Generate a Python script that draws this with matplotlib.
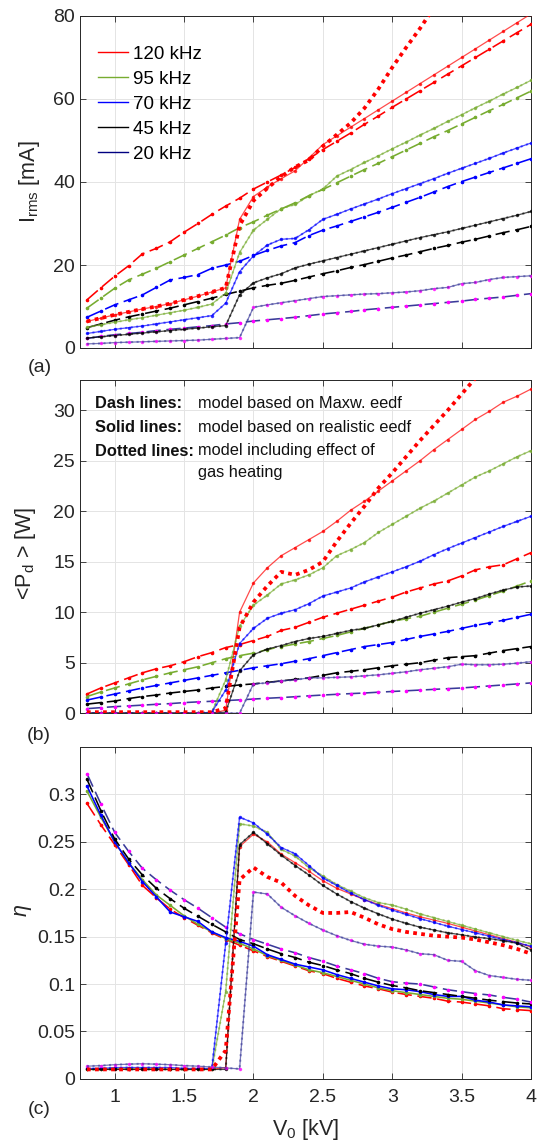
import matplotlib
matplotlib.use('Agg')
import matplotlib.pyplot as plt
from matplotlib.lines import Line2D
from matplotlib.ticker import FuncFormatter

plt.rcParams['font.family'] = ['Liberation Sans', 'DejaVu Sans']
plt.rcParams['mathtext.fontset'] = 'custom'
plt.rcParams['mathtext.rm'] = 'Liberation Sans'
plt.rcParams['mathtext.it'] = 'Liberation Sans:italic'
plt.rcParams['mathtext.bf'] = 'Liberation Sans:bold'

# ---------------- data ----------------
V0 = [0.8, 0.9, 1.0, 1.1, 1.2, 1.3, 1.4, 1.5, 1.6, 1.7, 1.8, 1.9, 2.0, 2.1, 2.2, 2.3, 2.4,
      2.5, 2.6, 2.7, 2.8, 2.9, 3.0, 3.1, 3.2, 3.3, 3.4, 3.5, 3.6, 3.7, 3.8, 3.9, 4.0]
freqs = ['120 kHz', '95 kHz', '70 kHz', '45 kHz', '20 kHz']

# (a) Irms [mA]
irms_dash_120 = [11.6, 14.5, 17.3, 19.8, 22.7, 24.0, 25.6, 27.9, 30.0, 32.2, 34.2, 36.1, 38.3, 40.0, 41.7, 43.5, 45.6,
                 47.8, 49.8, 51.8, 53.9, 55.9, 58.0, 60.0, 62.0, 64.0, 66.0, 68.0, 70.0, 72.0, 74.0, 76.0, 78.0]
irms_solid_120 = [6.4, 7.2, 8.0, 8.7, 9.4, 10.0, 10.7, 11.6, 12.5, 13.5, 14.5, 31.0, 36.5, 38.8, 40.8, 42.7, 45.8,
                  49.0, 51.1, 53.2, 55.3, 57.4, 59.5, 61.6, 63.7, 65.8, 67.9, 70.0, 72.1, 74.2, 76.3, 78.4, 80.5]
irms_dot_120 = [6.4, 7.2, 8.0, 8.7, 9.4, 10.0, 10.7, 11.6, 12.5, 13.5, 14.5, 29.5, 35.5, 38.5, 41.3, 43.6, 45.3,
                48.6, 51.4, 54.2, 57.8, 62.4, 67.6, 72.4, 77.0, 82.0]
irms_dash_95 = [9.6, 12.0, 14.4, 16.4, 17.8, 19.2, 20.8, 22.4, 24.0, 25.6, 27.2, 29.0, 30.4, 32.0, 33.5, 35.0, 36.7,
                38.2, 39.8, 41.4, 43.0, 44.5, 46.1, 47.7, 49.3, 50.9, 52.4, 54.0, 55.6, 57.2, 58.7, 60.3, 61.9]
irms_solid_95 = [5.0, 5.6, 6.2, 6.8, 7.3, 7.9, 8.5, 9.1, 9.8, 10.6, 13.2, 23.0, 28.4, 31.0, 33.6, 34.6, 36.7,
                 38.3, 41.4, 43.0, 44.7, 46.3, 48.0, 49.6, 51.3, 52.9, 54.6, 56.2, 57.9, 59.5, 61.2, 62.8, 64.5]
irms_dash_70 = [7.4, 8.9, 10.4, 11.6, 12.8, 14.6, 16.4, 17.0, 17.7, 19.2, 20.0, 20.9, 22.3, 23.5, 24.6, 25.4, 27.1,
                28.4, 29.4, 30.5, 31.6, 32.7, 33.9, 35.1, 36.3, 37.6, 38.9, 40.1, 41.2, 42.3, 43.4, 44.5, 45.6]
irms_solid_70 = [3.5, 4.0, 4.5, 4.9, 5.3, 5.8, 6.3, 6.8, 7.3, 7.8, 10.8, 18.4, 22.2, 24.8, 26.2, 26.4, 28.5,
                 31.0, 32.2, 33.5, 34.7, 35.9, 37.2, 38.4, 39.6, 40.8, 42.1, 43.3, 44.5, 45.7, 47.0, 48.2, 49.4]
irms_dash_45 = [4.9, 5.8, 6.7, 7.5, 8.2, 8.9, 9.6, 10.4, 11.2, 12.0, 12.9, 13.7, 14.5, 15.1, 15.6, 16.3, 17.1,
                17.9, 18.6, 19.4, 20.1, 20.9, 21.7, 22.4, 23.2, 24.0, 24.7, 25.5, 26.2, 27.0, 27.8, 28.5, 29.3]
irms_solid_45 = [2.4, 2.7, 3.0, 3.3, 3.6, 3.9, 4.2, 4.5, 4.8, 5.1, 5.4, 12.8, 15.7, 16.9, 17.9, 19.3, 20.2,
                 21.0, 21.8, 22.6, 23.4, 24.2, 25.0, 25.8, 26.6, 27.3, 28.0, 28.8, 29.6, 30.4, 31.2, 32.0, 32.9]
irms_dash_20 = [2.3, 2.8, 3.2, 3.5, 3.8, 4.2, 4.5, 4.8, 5.1, 5.4, 5.8, 6.1, 6.5, 6.8, 7.1, 7.4, 7.8,
                8.2, 8.5, 8.8, 9.2, 9.5, 9.8, 10.1, 10.4, 10.7, 11.0, 11.3, 11.7, 12.0, 12.3, 12.7, 13.1]
irms_solid_20 = [1.0, 1.1, 1.3, 1.4, 1.5, 1.6, 1.7, 1.8, 1.9, 2.1, 2.3, 2.5, 9.8, 10.4, 10.9, 11.4, 11.9,
                 12.4, 12.6, 12.8, 13.0, 13.1, 13.3, 13.5, 13.8, 14.3, 14.6, 15.5, 15.8, 16.5, 17.0, 17.2, 17.4]

# (b) <Pd> [W]
pd_dash_120 = [1.9, 2.5, 3.0, 3.5, 4.0, 4.4, 4.7, 5.1, 5.6, 6.0, 6.5, 6.8, 7.2, 7.6, 8.2, 8.5, 9.0,
               9.5, 9.9, 10.3, 10.7, 11.1, 11.5, 12.0, 12.4, 12.8, 13.1, 13.6, 14.2, 14.5, 14.7, 15.3, 15.9]
pd_solid_120 = [0, 0, 0, 0, 0, 0, 0, 0, 0, 0, 0.3, 10.0, 12.9, 14.4, 15.6, 16.4, 17.2,
                18.0, 19.0, 20.1, 21.0, 22.0, 23.0, 24.0, 25.0, 26.1, 27.1, 28.1, 29.1, 29.9, 30.8, 31.4, 32.1]
pd_dot_120 = [0.1, 0.1, 0.1, 0.1, 0.1, 0.1, 0.1, 0.1, 0.1, 0.1, 0.5, 8.5, 11.0, 12.6, 14.0, 13.7, 14.2,
              15.0, 17.0, 18.8, 20.5, 22.3, 23.8, 25.4, 27.0, 28.5, 30.0, 31.6, 33.2, 34.8]
pd_dash_95 = [1.65, 2.1, 2.5, 2.9, 3.3, 3.65, 4.0, 4.3, 4.6, 5.0, 5.4, 5.7, 5.95, 6.3, 6.6, 6.85, 7.1,
              7.4, 7.7, 8.05, 8.4, 8.75, 9.1, 9.35, 9.6, 10.0, 10.4, 10.8, 11.2, 11.65, 12.1, 12.6, 13.1]
pd_solid_95 = [0, 0, 0, 0, 0, 0, 0, 0, 0, 0.1, 3.3, 8.6, 10.7, 11.7, 12.8, 13.2, 13.7,
               14.4, 15.6, 16.2, 16.9, 17.9, 18.7, 19.5, 20.3, 21.0, 21.8, 22.6, 23.4, 24.0, 24.7, 25.4, 26.0]
pd_dash_70 = [1.3, 1.6, 1.9, 2.2, 2.5, 2.75, 3.0, 3.25, 3.5, 3.75, 4.0, 4.25, 4.5, 4.7, 4.9, 5.15, 5.4,
              5.7, 6.0, 6.3, 6.6, 6.8, 7.0, 7.3, 7.6, 7.85, 8.1, 8.4, 8.7, 8.95, 9.2, 9.5, 9.8]
pd_solid_70 = [0, 0, 0, 0, 0, 0, 0, 0, 0, 0.1, 2.3, 6.9, 8.4, 9.4, 9.9, 10.25, 10.85,
               11.6, 12.0, 12.4, 13.0, 13.5, 14.0, 14.5, 15.05, 15.7, 16.3, 16.85, 17.4, 17.95, 18.5, 19.0, 19.5]
pd_dash_45 = [0.9, 1.05, 1.2, 1.45, 1.65, 1.8, 2.0, 2.15, 2.3, 2.5, 2.65, 2.8, 2.9, 3.05, 3.2, 3.35, 3.5,
              3.75, 4.0, 4.15, 4.3, 4.5, 4.7, 4.85, 5.0, 5.25, 5.5, 5.6, 5.7, 5.95, 6.2, 6.4, 6.6]
pd_solid_45 = [0, 0, 0, 0, 0, 0, 0, 0, 0, 0, 0.1, 4.2, 5.8, 6.35, 6.7, 7.1, 7.4,
               7.6, 7.9, 8.2, 8.4, 8.75, 9.1, 9.5, 9.9, 10.25, 10.6, 11.0, 11.35, 11.8, 12.2, 12.5, 12.6]
pd_dash_20 = [0.45, 0.55, 0.65, 0.72, 0.8, 0.88, 0.95, 1.05, 1.12, 1.18, 1.25, 1.32, 1.4, 1.48, 1.55, 1.63, 1.72,
              1.8, 1.87, 1.94, 2.0, 2.08, 2.15, 2.22, 2.29, 2.36, 2.43, 2.5, 2.6, 2.7, 2.8, 2.9, 3.0]
pd_solid_20 = [0, 0, 0, 0, 0, 0, 0, 0, 0, 0, 0, 0, 2.9, 3.0, 3.2, 3.3, 3.5,
               3.5, 3.55, 3.6, 3.7, 3.8, 3.95, 4.1, 4.3, 4.45, 4.6, 4.85, 4.8, 4.8, 4.85, 4.95, 5.1]

# (c) eta
eta_dash_120 = [0.2905, 0.268, 0.247, 0.226, 0.204, 0.191, 0.179, 0.170, 0.162, 0.154, 0.147, 0.141, 0.135, 0.129,
                0.124, 0.119, 0.114, 0.111, 0.106, 0.102, 0.098, 0.095, 0.0915, 0.089, 0.087, 0.085, 0.082, 0.081,
                0.079, 0.077, 0.074, 0.073, 0.072]
eta_dash_95 = [0.3035, 0.276, 0.250, 0.228, 0.210, 0.194, 0.183, 0.172, 0.163, 0.155, 0.148, 0.143, 0.137, 0.130,
               0.125, 0.120, 0.115, 0.112, 0.108, 0.104, 0.100, 0.096, 0.093, 0.091, 0.089, 0.087, 0.085, 0.084,
               0.082, 0.080, 0.078, 0.076, 0.075]
eta_dash_70 = [0.309, 0.278, 0.250, 0.228, 0.208, 0.192, 0.176, 0.171, 0.166, 0.155, 0.149, 0.145, 0.140, 0.131,
               0.126, 0.121, 0.118, 0.115, 0.110, 0.106, 0.102, 0.098, 0.095, 0.094, 0.092, 0.089, 0.087, 0.087,
               0.083, 0.081, 0.078, 0.077, 0.076]
eta_dash_45 = [0.316, 0.283, 0.253, 0.232, 0.215, 0.201, 0.190, 0.180, 0.1715, 0.163, 0.155, 0.147, 0.1425, 0.137,
               0.132, 0.128, 0.123, 0.1195, 0.115, 0.111, 0.106, 0.102, 0.0985, 0.096, 0.093, 0.091, 0.089, 0.087,
               0.085, 0.083, 0.0815, 0.080, 0.079]
eta_dash_20 = [0.322, 0.290, 0.260, 0.240, 0.222, 0.210, 0.199, 0.189, 0.180, 0.170, 0.160, 0.153, 0.147, 0.142,
               0.137, 0.133, 0.128, 0.124, 0.119, 0.115, 0.111, 0.106, 0.1025, 0.101, 0.100, 0.097, 0.094, 0.092,
               0.090, 0.0885, 0.086, 0.084, 0.081]
eta_solid_120 = [0.010, 0.010, 0.010, 0.010, 0.010, 0.010, 0.010, 0.010, 0.010, 0.010, 0.012, 0.245, 0.258, 0.250,
                 0.237, 0.228, 0.219, 0.209, 0.201, 0.195, 0.189, 0.184, 0.1795, 0.175, 0.171, 0.1675, 0.164, 0.160,
                 0.156, 0.152, 0.148, 0.144, 0.139]
eta_dot_120 = [0.010, 0.010, 0.010, 0.010, 0.010, 0.010, 0.010, 0.010, 0.010, 0.010, 0.030, 0.210, 0.223, 0.213,
               0.207, 0.193, 0.183, 0.175, 0.175, 0.176, 0.170, 0.163, 0.158, 0.155, 0.153, 0.151, 0.150, 0.149,
               0.147, 0.144, 0.141, 0.137, 0.132]
eta_solid_95 = [0.010, 0.010, 0.011, 0.011, 0.011, 0.011, 0.010, 0.010, 0.010, 0.010, 0.092, 0.269, 0.2666, 0.260,
                0.242, 0.235, 0.2227, 0.2139, 0.205, 0.198, 0.191, 0.186, 0.1833, 0.179, 0.174, 0.170, 0.166, 0.162,
                0.158, 0.154, 0.150, 0.146, 0.1425]
eta_solid_70 = [0.011, 0.011, 0.012, 0.012, 0.012, 0.012, 0.012, 0.011, 0.011, 0.011, 0.143, 0.276, 0.270, 0.258,
                0.244, 0.2374, 0.225, 0.212, 0.204, 0.196, 0.189, 0.183, 0.178, 0.1735, 0.169, 0.165, 0.161, 0.1575,
                0.154, 0.1505, 0.147, 0.1435, 0.140]
eta_solid_45 = [0.010, 0.010, 0.010, 0.010, 0.010, 0.010, 0.010, 0.010, 0.010, 0.010, 0.010, 0.247, 0.260, 0.248,
                0.236, 0.225, 0.215, 0.204, 0.195, 0.187, 0.180, 0.174, 0.1685, 0.164, 0.160, 0.157, 0.154, 0.152,
                0.1495, 0.148, 0.1457, 0.143, 0.136]
eta_solid_20 = [0.0134, 0.014, 0.015, 0.0155, 0.016, 0.0155, 0.015, 0.014, 0.0134, 0.0125, 0.0116, 0.0105, 0.197,
                0.195, 0.181, 0.172, 0.164, 0.157, 0.151, 0.146, 0.142, 0.140, 0.139, 0.136, 0.132, 0.131, 0.125,
                0.124, 0.114, 0.109, 0.107, 0.105, 0.104]

x_ticks = [1, 1.5, 2, 2.5, 3, 3.5, 4]

# ---------------- styles ----------------
line_colors = ['#ff0000', '#77ac30', '#0000ff', '#000000', '#3a3a9a']
mark_colors = ['#ff0000', '#77ac30', '#0000ff', '#000000', '#ff00ff']
legend_colors = ['#ff0000', '#77ac30', '#0000ff', '#000000', '#000080']
DASH = (0, (9, 3.5))

W, H = 539, 1148
fig = plt.figure(figsize=(W / 100, H / 100), dpi=100)


def rect(top, bottom, left=80, right=531):
    return [left / W, 1 - bottom / H, (right - left) / W, (bottom - top) / H]


ax_a = fig.add_axes(rect(16, 348))
ax_b = fig.add_axes(rect(380, 713.2))
ax_c = fig.add_axes(rect(747, 1078.9))


def style(ax, ylim, yticks, show_x):
    ax.set_xlim(0.75, 4.0)
    ax.set_ylim(*ylim)
    ax.set_xticks(x_ticks)
    ax.set_yticks(yticks)
    ax.grid(True, color='#e4e4e4', lw=0.7)
    ax.set_axisbelow(True)
    ax.tick_params(direction='in', top=True, right=True, length=4, width=0.6,
                   colors='#262626', labelsize=14)
    ax.tick_params(axis='y', pad=3.5)
    ax.tick_params(axis='x', pad=7, labelbottom=show_x)
    fmt = FuncFormatter(lambda v, p: f'{v:g}')
    ax.xaxis.set_major_formatter(fmt)
    ax.yaxis.set_major_formatter(fmt)
    for s in ax.spines.values():
        s.set_color('#262626')
        s.set_linewidth(0.7)


def plot_dash(ax, y, i, solid_look=False):
    ls = '-' if solid_look else DASH
    ax.plot(V0[:len(y)], y, ls=ls, lw=1.15, color=line_colors[i], marker='o', ms=1.6,
            mfc=mark_colors[i], mec=mark_colors[i], clip_on=True, zorder=3)


def plot_solid(ax, y, i, overlay=True):
    ax.plot(V0[:len(y)], y, ls='-', lw=0.9, color=line_colors[i], alpha=0.7,
            marker='o', ms=1.5, mfc=mark_colors[i], mec=mark_colors[i], zorder=4)
    if overlay:
        ax.plot(V0[:len(y)], y, ls=':', lw=1.5, color=line_colors[i], alpha=0.55, zorder=4)


def plot_dot120(ax, y):
    ax.plot(V0[:len(y)], y, ls=(0, (1, 1.15)), lw=2.7, color='#ff0000', zorder=5)


panels = [
    (ax_a, [irms_dash_120, irms_dash_95, irms_dash_70, irms_dash_45, irms_dash_20],
     [irms_solid_120, irms_solid_95, irms_solid_70, irms_solid_45, irms_solid_20], irms_dot_120),
    (ax_b, [pd_dash_120, pd_dash_95, pd_dash_70, pd_dash_45, pd_dash_20],
     [pd_solid_120, pd_solid_95, pd_solid_70, pd_solid_45, pd_solid_20], pd_dot_120),
    (ax_c, [eta_dash_120, eta_dash_95, eta_dash_70, eta_dash_45, eta_dash_20],
     [eta_solid_120, eta_solid_95, eta_solid_70, eta_solid_45, eta_solid_20], eta_dot_120),
]

for k, (ax, dashes, solids, dot120) in enumerate(panels):
    for i in range(5):
        plot_dash(ax, dashes[i], i, solid_look=(k == 2 and i in (1, 2)))
    for i in range(5):
        plot_solid(ax, solids[i], i, overlay=(i != 0))
    plot_dot120(ax, dot120)

style(ax_a, (0, 80), [0, 20, 40, 60, 80], False)
style(ax_b, (0, 33), [0, 5, 10, 15, 20, 25, 30], False)
style(ax_c, (0, 0.35), [0, 0.05, 0.1, 0.15, 0.2, 0.25, 0.3], True)

# legend
handles = [Line2D([0], [0], color=c, lw=1.0) for c in legend_colors]
ax_a.legend(handles, freqs, loc='upper left', bbox_to_anchor=((98 - 80) / 451, (348 - 45.5) / 332),
            frameon=False, fontsize=13.5, handlelength=1.6, handletextpad=0.25,
            labelspacing=0.42, borderpad=0, borderaxespad=0)

# annotation text in (b)
rows = [('Dash lines:', 'model based on Maxw. eedf', 404),
        ('Solid lines:', 'model based on realistic eedf', 427),
        ('Dotted lines:', 'model including effect of', 451)]
for bold, txt, py in rows:
    yy = (713.2 - py) / 333.2
    ax_b.text((95 - 80) / 451, yy, bold, transform=ax_b.transAxes, fontsize=11.8,
              fontweight='bold', va='center', ha='left', color='#111111')
    ax_b.text((198 - 80) / 451, yy, txt, transform=ax_b.transAxes, fontsize=11.8,
              va='center', ha='left', color='#111111')
ax_b.text((198 - 80) / 451, (713.2 - 472) / 333.2, 'gas heating', transform=ax_b.transAxes,
          fontsize=11.8, va='center', ha='left', color='#111111')

# axis labels
fig.text(30 / W, 1 - 182 / H, r'I$_{\rm rms}$ [mA]', rotation=90, ha='center', va='center',
         fontsize=15.5, color='#262626')
fig.text(25.5 / W, 1 - 553 / H, r'<P$_{\rm d}$ > [W]', rotation=90, ha='center', va='center',
         fontsize=15.5, color='#262626')
fig.text(23.5 / W, 1 - 911 / H, r'$\eta$', rotation=90, ha='center', va='center',
         fontsize=15.5, color='#262626')
fig.text(305.5 / W, 1 - 1130 / H, r'V$_{\rm 0}$ [kV]', ha='center', va='center',
         fontsize=15.5, color='#262626')

for lab, px, py in [('(a)', 39.5, 368), ('(b)', 38.3, 736), ('(c)', 38.7, 1110)]:
    fig.text(px / W, 1 - py / H, lab, ha='center', va='center', fontsize=14, color='#262626')

fig.savefig('out.png', dpi=100)
